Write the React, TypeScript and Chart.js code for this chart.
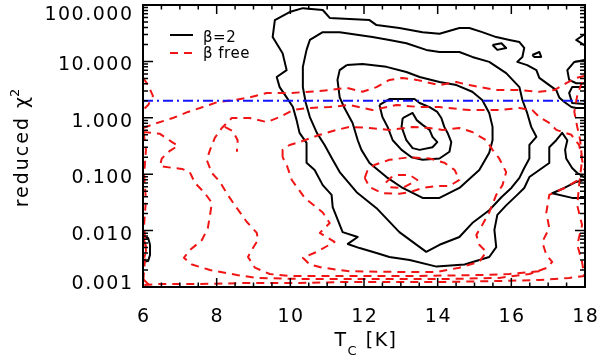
import React, { useEffect, useRef } from 'react';
import { Chart, registerables } from 'chart.js';

Chart.register(...registerables);

type Pt = [number, number];

// ---- axes / text ----
const tcRange = [6, 18];
const chi2Range = [0.001, 100];
const xTickValues = [6, 8, 10, 12, 14, 16, 18];
const yTickValues = [0.001, 0.01, 0.1, 1, 10, 100];
const yTickLabels = ['0.001', '0.010', '0.100', '1.000', '10.000', '100.000'];
const xTitleMain = 'T';
const xTitleSub = 'C';
const xTitleRest = ' [K]';
const yTitleMain = 'reduced \u03c7';
const yTitleSup = '2';
const legendLabels = ['\u03b2=2', '\u03b2 free'];
const chi2Threshold = 2;

// ---- beta = 2 contours (solid black), [Tc, reduced chi2] ----
const beta2Level5: Pt[] = [
  [13.05, 0.99], [13.32, 1.22], [13.43, 0.91], [13.59, 0.75], [13.78, 0.61], [13.86, 0.46],
  [13.99, 0.37], [13.86, 0.30], [13.51, 0.27], [13.32, 0.29], [13.15, 0.40], [13.02, 0.69], [13.05, 0.99],
];
const beta2Level4: Pt[] = [
  [12.42, 1.69], [12.69, 2.15], [13.37, 2.15], [13.51, 1.83], [13.78, 1.55], [13.99, 1.27], [14.10, 0.99],
  [14.18, 0.69], [14.27, 0.54], [14.37, 0.37], [14.32, 0.25], [14.05, 0.19], [13.59, 0.18], [13.29, 0.20],
  [13.02, 0.27], [12.78, 0.40], [12.64, 0.69], [12.50, 1.03], [12.42, 1.69],
];
const beta2Level3: Pt[] = [
  [11.53, 8.6], [11.96, 9.0], [12.61, 8.0], [13.15, 6.5], [13.51, 5.3], [14.05, 4.3], [14.51, 3.8],
  [14.94, 2.9], [15.21, 2.07], [15.40, 1.22], [15.49, 0.69], [15.49, 0.40], [15.40, 0.24], [15.13, 0.119],
  [14.59, 0.057], [14.05, 0.038], [13.59, 0.038], [13.05, 0.057], [12.61, 0.089], [12.15, 0.158],
  [11.93, 0.27], [11.83, 0.40], [11.69, 0.81], [11.47, 1.49], [11.34, 2.3], [11.28, 4.7], [11.34, 7.0], [11.53, 8.6],
];
const beta2Level2: Pt[] = [
  [10.44, 16], [10.53, 24], [10.88, 33], [11.34, 33], [12.23, 27], [12.69, 24], [13.15, 21], [13.69, 16],
  [14.05, 14.7], [14.59, 14.7], [14.94, 12], [15.40, 9.8], [15.86, 6.2], [16.22, 3.5], [16.30, 2.07],
  [16.43, 1.22], [16.54, 0.69], [16.68, 0.46], [16.49, 0.33], [16.49, 0.19], [16.35, 0.129], [16.22, 0.086],
  [16.00, 0.057], [15.73, 0.039], [15.40, 0.023], [14.94, 0.0136], [14.59, 0.0077], [14.05, 0.0056],
  [13.69, 0.0042], [13.32, 0.0063], [12.96, 0.0094], [12.34, 0.025], [11.80, 0.048], [11.34, 0.109],
  [11.15, 0.18], [10.93, 0.33], [10.72, 0.54], [10.53, 1.03], [10.42, 1.83], [10.34, 3.5], [10.34, 8.0], [10.44, 16],
];
const beta2Level1: Pt[] = [
  [17.98, 1.49], [17.76, 1.49], [17.63, 1.55], [17.44, 1.91], [17.30, 2.3], [17.22, 3.1], [17.03, 3.8],
  [16.76, 5.1], [16.68, 7.0], [16.43, 8.6], [16.16, 9.8], [16.30, 12], [16.35, 17.3], [16.22, 22],
  [15.95, 24], [15.59, 27], [15.21, 33], [14.86, 39], [14.59, 39], [14.05, 31], [13.59, 33], [12.96, 39],
  [12.34, 44], [12.15, 54], [11.07, 59], [10.88, 81.5], [10.34, 88], [9.98, 75], [9.58, 54], [9.52, 27],
  [9.79, 14], [9.90, 7.0], [9.63, 5.3], [9.71, 3.5], [9.90, 2.3], [10.07, 1.55], [10.17, 0.91],
  [10.25, 0.54], [10.44, 0.36], [10.44, 0.16], [10.66, 0.119], [10.88, 0.064], [11.12, 0.043],
  [11.15, 0.026], [11.42, 0.0094], [11.83, 0.0077], [11.56, 0.0058], [11.88, 0.0049], [12.34, 0.0040],
  [12.69, 0.0034], [13.24, 0.0030], [13.97, 0.0023], [14.73, 0.0025], [15.40, 0.0034], [15.59, 0.0051],
  [15.54, 0.0103], [15.62, 0.019], [15.86, 0.028], [16.16, 0.043], [16.35, 0.057], [16.49, 0.089],
  [17.03, 0.158], [17.03, 0.30], [17.22, 0.40], [17.38, 0.54], [17.52, 0.40], [17.46, 0.27],
  [17.49, 0.19], [17.65, 0.129], [17.79, 0.105], [17.98, 0.089],
];
const beta2EdgeSpike: Pt[] = [[17.98, 0.079], [17.76, 0.073], [17.44, 0.057], [17.11, 0.046], [17.65, 0.038], [17.98, 0.038]];
const beta2EdgeLoopA: Pt[] = [[17.98, 10.6], [17.71, 9.8], [17.52, 7.0], [17.57, 4.7], [17.76, 4.1], [17.98, 4.1]];
const beta2EdgeLoopB: Pt[] = [[17.98, 3.5], [17.65, 3.5], [17.57, 2.75], [17.65, 1.83], [17.98, 1.76]];
const beta2EdgeNotch: Pt[] = [[17.98, 30], [17.76, 24], [17.98, 19.5]];
const beta2IslandA: Pt[] = [[15.49, 19.5], [15.73, 21], [15.86, 17.3], [15.62, 16], [15.49, 19.5]];
const beta2IslandB: Pt[] = [[16.57, 13], [16.76, 14.7], [16.81, 12], [16.62, 12], [16.57, 13]];
const beta2LeftBlob: Pt[] = [[6.0, 0.0077], [6.14, 0.0074], [6.19, 0.0056], [6.19, 0.0037], [6.14, 0.0029], [6.0, 0.0028]];

// ---- beta free contours (dashed red) ----
const betaFreeLevel1: Pt[] = [
  [6.0, 0.66], [6.38, 0.81], [6.81, 0.99], [7.22, 1.27], [7.63, 1.55], [8.03, 1.91], [8.49, 2.07],
  [8.90, 2.3], [9.36, 2.75], [9.98, 2.75], [10.53, 2.9], [11.07, 3.1], [11.53, 3.4], [11.96, 2.9],
  [12.34, 3.5], [12.69, 4.7], [13.05, 5.1], [13.43, 4.7], [14.05, 3.8], [14.51, 4.3], [14.86, 3.8],
  [15.59, 3.1], [16.22, 3.1], [16.76, 2.9], [17.17, 3.1], [17.49, 4.1], [17.76, 5.1], [17.98, 5.5],
  [17.79, 2.5], [17.71, 1.27], [17.79, 0.69], [17.87, 0.40], [17.92, 0.18], [17.84, 0.064], [17.79, 0.028],
  [17.92, 0.0126], [17.79, 0.0056], [17.92, 0.0028], [17.98, 0.00157],
  [17.57, 0.00145], [16.76, 0.00133], [15.67, 0.00128], [14.32, 0.00123], [12.96, 0.00123],
  [11.61, 0.00123], [10.25, 0.00118], [8.90, 0.00118], [7.54, 0.00113], [6.46, 0.00113], [6.0, 0.00108],
  [6.03, 0.002], [6.08, 0.0045], [6.03, 0.0126], [6.08, 0.035], [6.03, 0.097], [6.08, 0.27], [6.0, 0.66],
];
const betaFreeLevel2: Pt[] = [
  [6.0, 0.56], [6.46, 0.52], [6.79, 0.37], [6.95, 0.32], [6.73, 0.26], [6.51, 0.19], [6.46, 0.14],
  [6.81, 0.129], [7.06, 0.124], [7.27, 0.109], [7.41, 0.070], [7.68, 0.046], [7.87, 0.031], [7.82, 0.019],
  [7.76, 0.0111], [7.60, 0.0068], [7.27, 0.0045], [7.11, 0.0033], [7.33, 0.0025], [7.82, 0.0020],
  [8.55, 0.00163], [9.09, 0.00145], [10.25, 0.00139], [11.61, 0.00139], [12.96, 0.00139], [14.32, 0.00139],
  [15.67, 0.00145], [16.49, 0.0017], [16.98, 0.0022], [17.11, 0.0028], [16.95, 0.0037], [16.84, 0.0063],
  [17.03, 0.0111], [16.95, 0.021], [17.03, 0.043], [17.44, 0.057], [17.92, 0.086],
];
const betaFreeLevel3: Pt[] = [
  [16.76, 0.0019], [15.95, 0.0017], [15.13, 0.00163], [13.51, 0.00157], [11.61, 0.00157], [9.98, 0.00157],
  [9.44, 0.0017], [9.04, 0.0022], [8.85, 0.0034], [8.95, 0.0045], [9.12, 0.0068], [9.09, 0.0091],
  [8.82, 0.0142], [8.55, 0.025], [8.30, 0.043], [8.09, 0.073], [7.87, 0.105], [7.73, 0.18], [7.82, 0.27],
  [7.95, 0.44], [8.14, 0.66], [8.41, 0.99], [8.90, 0.99], [9.36, 0.84], [9.71, 1.03], [10.07, 1.37],
  [10.44, 1.49], [11.07, 1.55], [11.61, 1.69], [12.23, 1.37], [12.88, 1.69], [13.51, 1.55], [14.05, 1.55],
  [14.86, 1.37], [15.67, 1.37], [16.22, 1.49], [16.57, 1.37], [16.76, 1.03], [17.03, 0.81], [17.22, 0.61],
  [17.63, 0.50], [17.84, 0.33], [17.92, 0.18], [17.98, 0.119],
];
const betaFreeHook: Pt[] = [[8.22, 0.69], [8.44, 0.58], [8.57, 0.40], [8.55, 0.25]];
const betaFreeLevel4: Pt[] = [
  [9.79, 0.20], [9.79, 0.27], [9.98, 0.33], [10.25, 0.37], [10.80, 0.50], [11.26, 0.61], [11.61, 0.69],
  [12.15, 0.66], [12.69, 0.61], [13.32, 0.69], [13.78, 0.66], [14.13, 0.61], [14.59, 0.66], [14.94, 0.56],
  [15.32, 0.40], [15.49, 0.27], [15.67, 0.19], [15.86, 0.109], [15.76, 0.064], [15.59, 0.043], [15.40, 0.021],
  [15.21, 0.0126], [15.05, 0.0084], [15.13, 0.0056], [15.32, 0.0042], [15.13, 0.0028], [14.59, 0.0022],
  [13.97, 0.00185], [12.96, 0.00185], [11.61, 0.0019], [10.88, 0.0022], [10.53, 0.0025], [10.34, 0.0033],
  [10.72, 0.0042], [11.20, 0.0063], [10.80, 0.0091], [11.07, 0.0136], [10.88, 0.021], [10.39, 0.038],
  [10.04, 0.079], [9.90, 0.146], [9.79, 0.20],
];
const betaFreeLevel5: Pt[] = [
  [12.02, 0.086], [12.10, 0.119], [12.28, 0.146], [12.69, 0.18], [13.24, 0.20], [13.78, 0.19], [14.18, 0.16],
  [14.46, 0.119], [14.59, 0.079], [14.32, 0.062], [13.97, 0.062], [13.59, 0.057], [13.24, 0.048],
  [12.96, 0.045], [12.50, 0.046], [12.15, 0.059], [12.02, 0.086],
];
const betaFreeLevel6: Pt[] = [[12.75, 0.089], [12.61, 0.073], [12.69, 0.059], [13.05, 0.057], [13.45, 0.079], [13.24, 0.097], [12.91, 0.097], [12.75, 0.089]];
const betaFreeCornerTop: Pt[] = [[6.0, 5.1], [6.14, 3.8], [6.27, 2.44], [6.14, 1.69], [6.0, 1.37]];
const betaFreeCornerBottom: Pt[] = [[6.0, 0.00139], [6.11, 0.00118], [6.24, 0.001]];
const betaFreeLeftBlob: Pt[] = [[6.03, 0.0068], [6.1, 0.0045], [6.03, 0.0033]];

const BLACK = '#000000';
const RED = '#f01414';
const BLUE = '#1414ff';
const RED_DASH = [8, 6];
const BLUE_DASH = [10, 4, 2, 4];

const FONT = '"DejaVu Sans", "Liberation Sans", sans-serif';

function series(data: Pt[], color: string, dash: number[]) {
  return {
    data: data.map(([x, y]) => ({ x, y })),
    borderColor: color,
    backgroundColor: color,
    borderWidth: 2,
    borderDash: dash,
    pointRadius: 0,
    pointHoverRadius: 0,
    fill: false,
    tension: 0,
    borderJoinStyle: 'round' as const,
  };
}

const decorPlugin = {
  id: 'decor',
  afterDraw(chart: any) {
    const { ctx, chartArea: a } = chart;
    const xs = chart.scales.x;
    const ys = chart.scales.y;
    ctx.save();
    ctx.setLineDash([]);
    ctx.strokeStyle = BLACK;
    ctx.fillStyle = BLACK;

    // inward ticks
    ctx.lineWidth = 1.5;
    ctx.beginPath();
    const steps = Math.round((tcRange[1] - tcRange[0]) / 0.5);
    for (let i = 0; i <= steps; i++) {
      const v = tcRange[0] + i * 0.5;
      const px = xs.getPixelForValue(v);
      const len = i % 4 === 0 ? 9 : 4.5;
      ctx.moveTo(px, a.bottom);
      ctx.lineTo(px, a.bottom - len);
      ctx.moveTo(px, a.top);
      ctx.lineTo(px, a.top + len);
    }
    for (let e = -3; e <= 2; e++) {
      for (let m = 1; m <= 9; m++) {
        const v = m * Math.pow(10, e);
        if (v > chi2Range[1] * 1.0001) break;
        const py = ys.getPixelForValue(v);
        const len = m === 1 ? 10 : 5;
        ctx.moveTo(a.left, py);
        ctx.lineTo(a.left + len, py);
        ctx.moveTo(a.right, py);
        ctx.lineTo(a.right - len, py);
      }
    }
    ctx.stroke();

    // frame
    ctx.lineWidth = 2;
    ctx.strokeRect(a.left, a.top, a.right - a.left, a.bottom - a.top);

    // tick labels
    ctx.font = `19px ${FONT}`;
    (ctx as any).letterSpacing = '1.5px';
    ctx.textBaseline = 'alphabetic';
    ctx.textAlign = 'center';
    xTickValues.forEach((v) => {
      ctx.fillText(String(v), xs.getPixelForValue(v) + 0.75, a.bottom + 35);
    });
    ctx.textAlign = 'right';
    yTickValues.forEach((v, i) => {
      const py = ys.getPixelForValue(v);
      const base = Math.min(Math.max(py + 9, a.top + 15), a.bottom + 2);
      ctx.fillText(yTickLabels[i], a.left - 9.5, base);
    });

    // x title with subscript
    ctx.textAlign = 'left';
    const wT = ctx.measureText(xTitleMain).width;
    const wRest = ctx.measureText(xTitleRest).width;
    ctx.font = `13px ${FONT}`;
    const wSub = ctx.measureText(xTitleSub).width;
    const total = wT + wSub + wRest;
    let x0 = (a.left + a.right) / 2 - total / 2 + 2;
    ctx.font = `19px ${FONT}`;
    ctx.fillText(xTitleMain, x0, a.bottom + 59);
    ctx.font = `13px ${FONT}`;
    ctx.fillText(xTitleSub, x0 + wT, a.bottom + 68);
    ctx.font = `19px ${FONT}`;
    ctx.fillText(xTitleRest, x0 + wT + wSub, a.bottom + 59);

    // y title, rotated, with superscript
    ctx.save();
    ctx.translate(28, (a.top + a.bottom) / 2);
    ctx.rotate(-Math.PI / 2);
    (ctx as any).letterSpacing = '2px';
    ctx.font = `19px ${FONT}`;
    const wMain = ctx.measureText(yTitleMain).width;
    ctx.font = `13px ${FONT}`;
    const wSup = ctx.measureText(yTitleSup).width;
    const start = -(wMain + wSup) / 2;
    ctx.font = `19px ${FONT}`;
    ctx.fillText(yTitleMain, start, 0);
    ctx.font = `13px ${FONT}`;
    ctx.fillText(yTitleSup, start + wMain - 2, -9);
    ctx.restore();

    // legend
    (ctx as any).letterSpacing = '0.5px';
    ctx.font = `15px ${FONT}`;
    ctx.lineWidth = 2;
    ctx.strokeStyle = BLACK;
    ctx.setLineDash([]);
    ctx.beginPath();
    ctx.moveTo(a.left + 27, a.top + 30);
    ctx.lineTo(a.left + 50, a.top + 30);
    ctx.stroke();
    ctx.fillText(legendLabels[0], a.left + 60, a.top + 37);
    ctx.strokeStyle = RED;
    ctx.setLineDash(RED_DASH);
    ctx.beginPath();
    ctx.moveTo(a.left + 27, a.top + 48);
    ctx.lineTo(a.left + 50, a.top + 48);
    ctx.stroke();
    ctx.fillText(legendLabels[1], a.left + 60, a.top + 53);

    ctx.restore();
  },
};

export default function App() {
  const canvasRef = useRef<HTMLCanvasElement | null>(null);

  useEffect(() => {
    document.body.style.margin = '0';
    const canvas = canvasRef.current;
    if (!canvas) return;

    const blackSets = [
      beta2Level1, beta2Level2, beta2Level3, beta2Level4, beta2Level5,
      beta2EdgeSpike, beta2EdgeLoopA, beta2EdgeLoopB, beta2EdgeNotch,
      beta2IslandA, beta2IslandB, beta2LeftBlob,
    ].map((d) => series(d, BLACK, []));
    const redSets = [
      betaFreeLevel1, betaFreeLevel2, betaFreeLevel3, betaFreeHook, betaFreeLevel4,
      betaFreeLevel5, betaFreeLevel6, betaFreeCornerTop, betaFreeCornerBottom, betaFreeLeftBlob,
    ].map((d) => series(d, RED, RED_DASH));
    const blueLine: Pt[] = [[tcRange[0], chi2Threshold], [tcRange[1], chi2Threshold]];
    const blueSet = series(blueLine, BLUE, BLUE_DASH);

    const chart = new Chart(canvas, {
      type: 'line',
      data: { datasets: [blueSet, ...redSets, ...blackSets] as any },
      options: {
        responsive: false,
        animation: false,
        events: [],
        layout: { padding: { left: 143, right: 15, top: 5, bottom: 72 } },
        plugins: { legend: { display: false }, tooltip: { enabled: false } },
        scales: {
          x: { type: 'linear', min: tcRange[0], max: tcRange[1], display: false },
          y: { type: 'logarithmic', min: chi2Range[0], max: chi2Range[1], display: false },
        },
      },
      plugins: [decorPlugin],
    });
    return () => chart.destroy();
  }, []);

  return <canvas ref={canvasRef} width={600} height={359} style={{ display: 'block' }} />;
}
